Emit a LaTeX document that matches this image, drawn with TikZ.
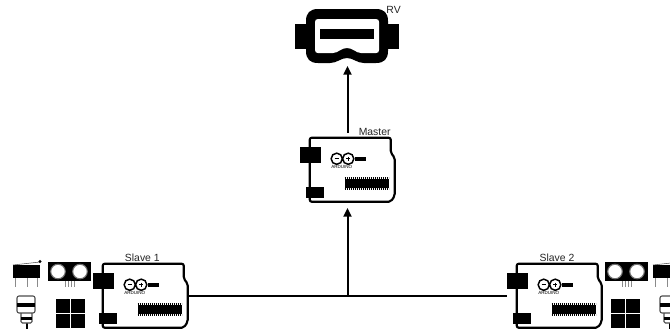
\documentclass[tikz,border=0pt]{standalone}
\usepackage{fontspec}
\setmainfont{Liberation Sans}
\usetikzlibrary{positioning, arrows.meta}
\definecolor{cInk}{HTML}{000000}
\definecolor{cPin}{HTML}{8A8A8A}
\definecolor{cRing}{HTML}{6E6E6E}
\tikzset{
  boardbox/.style={
    rectangle, inner sep=0pt, minimum width=63pt, minimum height=48pt
  },
  tag/.style={
    inner sep=0pt, font=\fontsize{7.8}{9}\selectfont, text=black!85
  },
  wire/.style={
    line width=1.5pt, color=cInk
  },
  arrowwire/.style={
    -{Triangle[length=6.5pt, width=6pt]}, line width=1.5pt, color=cInk
  },
  pics/boardshape/.style={
    code={
      % outline with the cut corner
      \draw[line width=1.6pt, rounded corners=1.5pt, fill=white]
        (0,0) -- (81,0) -- (81,15) -- (85,20) -- (85,58) -- (81,64) -- (0,64) -- cycle;
      % connectors
      \fill[cInk] (-10,9) rectangle (11,25);
      \fill[cInk] (-4,49) rectangle (14,60);
      % logo
      \draw[line width=1.1pt] (27,21) circle (5.6) (38.5,21) circle (5.6);
      \draw[line width=0.6pt] (25,21) -- (29,21) (36.5,21) -- (40.5,21) (38.5,19) -- (38.5,23);
      \fill[cInk] (45,19) rectangle (56,23);
      \node[inner sep=0pt, font=\fontsize{3.4}{4}\selectfont] at (32,29) {ARDUINO};
      % chip with its pins
      \fill[cInk] (35,41) rectangle (79,50);
      \draw[cInk, line width=1.2pt, dash pattern=on 0.8pt off 0.7pt] (35,40) -- (79,40) (35,51) -- (79,51);
    }
  },
  pics/gogglesshape/.style={
    code={
      % straps
      \fill[cInk] (-52,-12) rectangle (52,13);
      % frame
      \fill[cInk] (-29,-27) -- (29,-27) .. controls (37,-27) and (41,-23) .. (41,-15)
        -- (41,15) .. controls (41,23) and (37,27) .. (29,27) -- (17,27)
        .. controls (10,27) and (6,22) .. (0,22) .. controls (-6,22) and (-10,27) .. (-17,27)
        -- (-29,27) .. controls (-37,27) and (-41,23) .. (-41,15)
        -- (-41,-15) .. controls (-41,-23) and (-37,-27) .. (-29,-27) -- cycle;
      % lens
      \fill[white] (-29,-17) -- (29,-17) .. controls (31,-17) and (32,-16) .. (32,-14)
        -- (32,14) .. controls (32,16) and (31,17) .. (29,17) -- (14,17)
        .. controls (9,17) and (6,12) .. (0,12) .. controls (-6,12) and (-9,17) .. (-14,17)
        -- (-29,17) .. controls (-31,17) and (-32,16) .. (-32,14)
        -- (-32,-14) .. controls (-32,-16) and (-31,-17) .. (-29,-17) -- cycle;
      \fill[cInk] (-27,-7) rectangle (27,3);
    }
  },
  pics/switchshape/.style={
    code={
      \draw[cPin, line width=0.5pt] (2,14) -- (2,23) (14,14) -- (14,23) (24,14) -- (24,23);
      \fill[cInk] (0,1) rectangle (27,14);
      \draw[cInk!70, line width=0.4pt] (0,1) -- (27,-2);
      \fill[cInk] (27,-2.5) circle (1.6);
    }
  },
  pics/sonarshape/.style={
    code={
      \draw[cPin, line width=0.4pt] (17,19) -- (17,25) (20,19) -- (20,25) (23,19) -- (23,25) (26,19) -- (26,25);
      \fill[cInk] (0,0) rectangle (43,19);
      \draw[cRing, line width=0.8pt, fill=white] (10,9.5) circle (7.3) (32,9.5) circle (7.3);
    }
  },
  pics/buttonshape/.style={
    code={
      \draw[cInk, line width=0.8pt] (10,27) -- (10,33);
      \draw[cInk!70, line width=0.8pt, fill=white, rounded corners=1pt] (4,16) rectangle (15,27);
      \fill[cInk] (4,21) rectangle (15,24);
      \draw[cInk!70, line width=0.8pt, fill=white, rounded corners=1.5pt] (0,0) rectangle (18,17);
      \fill[cInk] (0,7) rectangle (18,10.5);
    }
  },
  pics/keypadshape/.style={
    code={
      \foreach \col in {0,15}
        \foreach \row in {0,15}
          \fill[cInk] (\col,\row) rectangle ++(13.5,13.5);
    }
  },
}

\begin{document}
\begin{tikzpicture}[x=0.75pt, y=-0.75pt]
\clip (0,0) rectangle (670,329);
\fill[white] (0,0) rectangle (670,329);

% ---- RV headset ----
\node[inner sep=0pt, minimum width=78pt, minimum height=42pt] (rv) at (347,36) {};
\pic at (rv.center) {gogglesshape};
\node[tag, above right=-4.2pt and -9.8pt of rv.north east] (rvlabel) {RV};

% ---- Master ----
\node[boardbox] (master) at (352,170) {};
\pic at (master.north west) {boardshape};
\node[tag, above=1.6pt of master.north, xshift=17pt] (masterlabel) {Master};

% ---- Slaves ----
\node[boardbox] (slave1) at (145,296) {};
\pic at (slave1.north west) {boardshape};
\node[tag, above=1.2pt of slave1.north, xshift=-2pt] (slave1label) {Slave 1};

\node[boardbox] (slave2) at (559,296) {};
\pic at (slave2.north west) {boardshape};
\node[tag, above=1.6pt of slave2.north, xshift=-1.5pt] (slave2label) {Slave 2};

% ---- Sensors of slave 1 ----
\pic at (13,264) {switchshape};
\pic at (48,262) {sonarshape};
\pic at (17,296) {buttonshape};
\pic at (56,299) {keypadshape};

% ---- Sensors of slave 2 ----
\pic at (605,262) {sonarshape};
\pic at (653,264) {switchshape};
\pic at (660,296) {buttonshape};
\pic at (611,299) {keypadshape};

% ---- Wires ----
\coordinate (busjoin) at (347.5,296);
\coordinate (busend) at (507,296);
\coordinate (masterin) at (347.5,208);
\coordinate (masterout) at (347.5,133);
\coordinate (rvin) at (347.5,66);

% slaves -> master
\draw[wire] (slave1.east) -- (busend);
\draw[arrowwire] (busjoin) -- (masterin);

% master -> headset
\draw[arrowwire] (masterout) -- (rvin);

\end{tikzpicture}
\end{document}
